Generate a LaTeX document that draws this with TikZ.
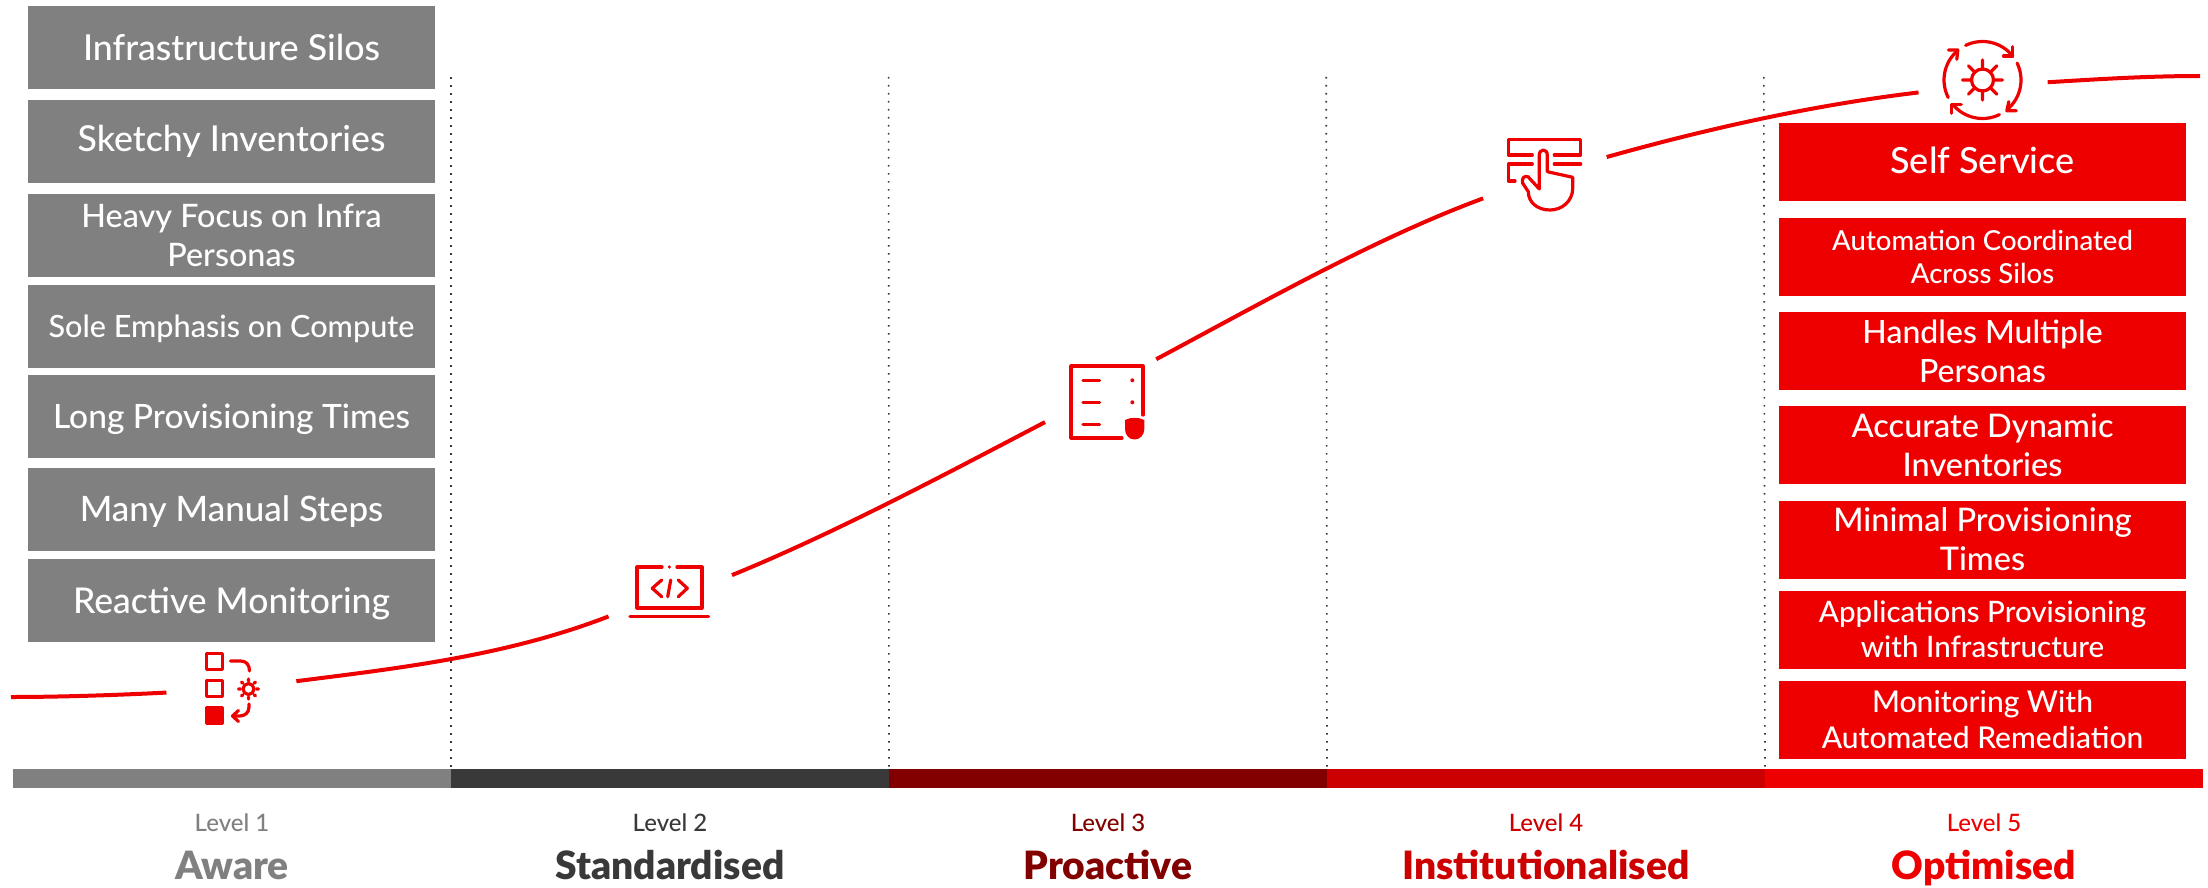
\documentclass[tikz,border=0pt]{standalone}
\usepackage{fontspec}
\setmainfont{Lato Medium}[BoldFont={Lato Black}]
\usetikzlibrary{positioning}
\definecolor{rhgrey}{HTML}{808080}
\definecolor{rhdark}{HTML}{393939}
\definecolor{rhmaroon}{HTML}{820000}
\definecolor{rhdeep}{HTML}{CC0000}
\definecolor{rhred}{HTML}{EE0000}
\tikzset{
  infobox/.style={
    rectangle,
    text=white,
    inner sep=0pt,
    minimum width=407pt,
    align=center},
  greybox/.style={infobox, fill=rhgrey, minimum height=83pt},
  redbox/.style={infobox, fill=rhred, minimum height=78pt},
  baseline at/.style={text height=#1, text depth=0pt},
  barpart/.style={
    rectangle,
    inner sep=0pt,
    minimum width=437.6pt,
    minimum height=19pt},
  lvltext/.style={
    inner sep=0pt,
    text height=18pt,
    text depth=0pt,
    below=25.5pt of #1,
    font=\fontsize{24}{28}\selectfont},
  nametext/.style={
    inner sep=0pt,
    text height=27pt,
    text depth=8pt,
    below=20pt of #1,
    font=\fontsize{39}{44}\selectfont\bfseries},
  iconspot/.style={circle, inner sep=0pt, minimum size=130pt},
  curveline/.style={draw=rhred, line width=4pt},
  iconline/.style={draw=rhred, line width=3.2pt, line cap=round, line join=round},
  sepline/.style={draw=rhdark, line width=1.6pt, dash pattern=on 1.6pt off 6.4pt},
}
\begin{document}
\begin{tikzpicture}[x=1pt,y=-1pt]
  \useasboundingbox (0,0) rectangle (2208,888);

  % left column
  \node (silos) [greybox, font=\fontsize{35.7}{39}\selectfont, baseline at=27pt] at (231.5,47.5) {Infrastructure Silos};
  \node (sketchy) [greybox, font=\fontsize{35.7}{39}\selectfont, baseline at=19pt] at (231.5,141.5) {Sketchy Inventories};
  \node (heavy) [greybox, font=\fontsize{32.3}{39}\selectfont] at (231.5,235) {Heavy Focus on Infra\\Personas};
  \node (sole) [greybox, font=\fontsize{30.6}{35}\selectfont, baseline at=23pt] at (231.5,326) {Sole Emphasis on Compute};
  \node (long) [greybox, font=\fontsize{33.5}{36}\selectfont, baseline at=23pt] at (231.5,416.5) {Long Provisioning Times};
  \node (many) [greybox, font=\fontsize{35}{39}\selectfont, baseline at=24pt] at (231.5,509) {Many Manual Steps};
  \node (reactive) [greybox, font=\fontsize{35.5}{39}\selectfont, baseline at=26pt] at (231.5,600.5) {Reactive Monitoring};

  % right column
  \node (self) [redbox, font=\fontsize{36}{39}\selectfont, baseline at=22pt] at (1982.5,162) {Self Service};
  \node (coord) [redbox, font=\fontsize{27.5}{33}\selectfont] at (1982.5,256.5) {Automation Coordinated\\Across Silos};
  \node (personas) [redbox, font=\fontsize{32}{39}\selectfont] at (1982.5,351) {Handles Multiple\\Personas};
  \node (dynamic) [redbox, font=\fontsize{32.5}{39}\selectfont] at (1982.5,445) {Accurate Dynamic\\Inventories};
  \node (minimal) [redbox, font=\fontsize{32.5}{39}\selectfont] at (1982.5,539.5) {Minimal Provisioning\\Times};
  \node (apps) [redbox, font=\fontsize{29.5}{35}\selectfont] at (1982.5,629.5) {Applications Provisioning\\with Infrastructure};
  \node (remed) [redbox, font=\fontsize{30}{36}\selectfont] at (1982.5,719.5) {Monitoring With\\Automated Remediation};

  % level bar
  \node (bar1) [barpart, fill=rhgrey] at (232,778.5) {};
  \node (bar2) [barpart, fill=rhdark, right=0pt of bar1] {};
  \node (bar3) [barpart, fill=rhmaroon, right=0pt of bar2] {};
  \node (bar4) [barpart, fill=rhdeep, right=0pt of bar3] {};
  \node (bar5) [barpart, fill=rhred, right=0pt of bar4] {};

  \node (lvl1) [lvltext=bar1, text=rhgrey] {Level 1};
  \node (lvl2) [lvltext=bar2, text=rhdark] {Level 2};
  \node (lvl3) [lvltext=bar3, text=rhmaroon] {Level 3};
  \node (lvl4) [lvltext=bar4, text=rhdeep] {Level 4};
  \node (lvl5) [lvltext=bar5, text=rhred] {Level 5};
  \node (name1) [nametext=lvl1, text=rhgrey] {Aware};
  \node (name2) [nametext=lvl2, text=rhdark] {Standardised};
  \node (name3) [nametext=lvl3, text=rhmaroon] {Proactive};
  \node (name4) [nametext=lvl4, text=rhdeep] {Institutionalised};
  \node (name5) [nametext=lvl5, text=rhred] {Optimised};

  % dotted separators
  \coordinate (top1) at (451,77);
  \coordinate (top2) at (888.6,77);
  \coordinate (top3) at (1326.2,77);
  \coordinate (top4) at (1763.8,77);
  \draw[sepline] (top1) -- (bar1.north east);
  \draw[sepline] (top2) -- (bar2.north east);
  \draw[sepline] (top3) -- (bar3.north east);
  \draw[sepline] (top4) -- (bar4.north east);

  % spots that hold the icons
  \node (tasks) [iconspot] at (231.5,688) {};
  \node (laptop) [iconspot] at (669,592) {};
  \node (policy) [iconspot] at (1107,402) {};
  \node (touch) [iconspot] at (1544,175) {};
  \node (cycle) [iconspot] at (1982.5,80) {};

  % maturity curve
  \coordinate (curvein) at (11,697);
  \coordinate (curveout) at (2200,76);
  \draw[curveline] (curvein) .. controls (60,697) and (120,695) .. (tasks.184);
  \draw[curveline] (tasks.6) .. controls (400,668) and (506,656) .. (laptop.202.5);
  \draw[curveline] (laptop.15) .. controls (835,533) and (940,477) .. (policy.198);
  \draw[curveline] (policy.41) .. controls (1267,300) and (1376,238) .. (touch.201);
  \draw[curveline] (touch.16) .. controls (1710,128) and (1814,105) .. (cycle.191);
  \draw[curveline] (cycle.-2) .. controls (2100,79) and (2150,76) .. (curveout);

  % tasks icon
  \begin{scope}[shift={(tasks.center)}]
    \draw[iconline] (-25,-34.8) rectangle (-9,-18.5);
    \draw[iconline] (-25,-7.5) rectangle (-9,8.5);
    \draw[iconline, fill=rhred] (-25,19.5) rectangle (-9,35.5);
    \draw[iconline] (-1,-27) -- (9,-27) .. controls (15,-27) and (18,-23) .. (18,-17);
    \draw[iconline] (17.5,16) -- (17.5,19) .. controls (17.5,25) and (13,28) .. (8,28) -- (1,28);
    \draw[iconline] (7,22.5) -- (1,28) -- (7,33.5);
    \draw[iconline] (17,1) circle (5.5);
    \draw[iconline, shift={(17,1)}] (0:8) -- (0:10) (45:8) -- (45:10) (90:8) -- (90:10) (135:8) -- (135:10)
      (180:8) -- (180:10) (225:8) -- (225:10) (270:8) -- (270:10) (315:8) -- (315:10);
  \end{scope}

  % laptop icon
  \begin{scope}[shift={(laptop.center)}]
    \draw[iconline] (-7,-25) -- (-32,-25) -- (-32,16) -- (33,16) -- (33,-25) -- (8,-25);
    \fill[rhred] (0.3,-25) circle (1.8);
    \draw[iconline] (-39,24.7) -- (39.5,24.7);
    \draw[iconline] (-7.3,-12) -- (-16.7,-3.7) -- (-7.3,4.7);
    \draw[iconline] (9.3,-12) -- (18.3,-3.7) -- (9.3,4.7);
    \draw[iconline] (1.7,-12) -- (-1.3,4.7);
  \end{scope}

  % policy icon
  \begin{scope}[shift={(policy.center)}]
    \draw[iconline] (36,13) -- (36,-36) -- (-36,-36) -- (-36,36) -- (15,36);
    \draw[iconline] (-24,-21.7) -- (-7.5,-21.7);
    \draw[iconline] (-24,0.3) -- (-7.5,0.3);
    \draw[iconline] (-24,22.3) -- (-7.5,22.3);
    \fill[rhred] (25.3,-21.7) circle (2);
    \fill[rhred] (25.3,0.3) circle (2);
    \fill[rhred] (18,18) .. controls (24,15) and (31,15) .. (37.3,18) -- (37.3,27)
      .. controls (37.3,33) and (33,37.5) .. (27.6,37.5) .. controls (22,37.5) and (18,33) .. (18,27) -- cycle;
  \end{scope}

  % touch icon
  \begin{scope}[shift={(touch.center)}]
    \draw[iconline] (-11.7,-20) -- (-35.7,-20) -- (-35.7,-35.7) -- (36.7,-35.7) -- (36.7,-20) -- (10.3,-20);
    \draw[iconline] (-11.7,-11) -- (-35.7,-11) -- (-35.7,6) -- (-29,6);
    \draw[iconline] (10.3,-11) -- (36.7,-11);
    \draw[iconline] (-4.7,14) -- (-4.7,-20) .. controls (-4.7,-26.5) and (3.3,-26.5) .. (3.3,-20)
      -- (3.3,-3.3) -- (28.7,2.3) -- (28.7,13.3) .. controls (28.7,26) and (18,35) .. (6,35)
      .. controls (-7,35) and (-15.7,27) .. (-15.7,16.7) -- (-21.3,8.3)
      .. controls (-22.5,3) and (-20,0.5) .. (-16,1.7) -- cycle;
  \end{scope}

  % cycle icon
  \begin{scope}[shift={(cycle.center)}, y=1pt]
    \draw[iconline] (0,0) circle (11);
    \draw[iconline] (0:11) -- (0:20) (45:11) -- (45:20) (90:11) -- (90:20) (135:11) -- (135:20)
      (180:11) -- (180:20) (225:11) -- (225:20) (270:11) -- (270:20) (315:11) -- (315:20);
    \draw[iconline] (116:38.5) arc[start angle=116, end angle=38, radius=38.5];
    \draw[iconline] (30.3,33.3) -- (30.3,24) -- (21,24);
    \draw[iconline] (26:38.5) arc[start angle=26, end angle=-49, radius=38.5];
    \draw[iconline] (33.7,-30.7) -- (24.3,-30.7) -- (26.3,-21.7);
    \draw[iconline] (-64:38.5) arc[start angle=-64, end angle=-141, radius=38.5];
    \draw[iconline] (-31.3,-33.3) -- (-31.3,-24.3) -- (-21.3,-24.3);
    \draw[iconline] (207:38.5) arc[start angle=207, end angle=131, radius=38.5];
    \draw[iconline] (-34,30) -- (-24.7,30) -- (-25.7,20.7);
  \end{scope}
\end{tikzpicture}
\end{document}
